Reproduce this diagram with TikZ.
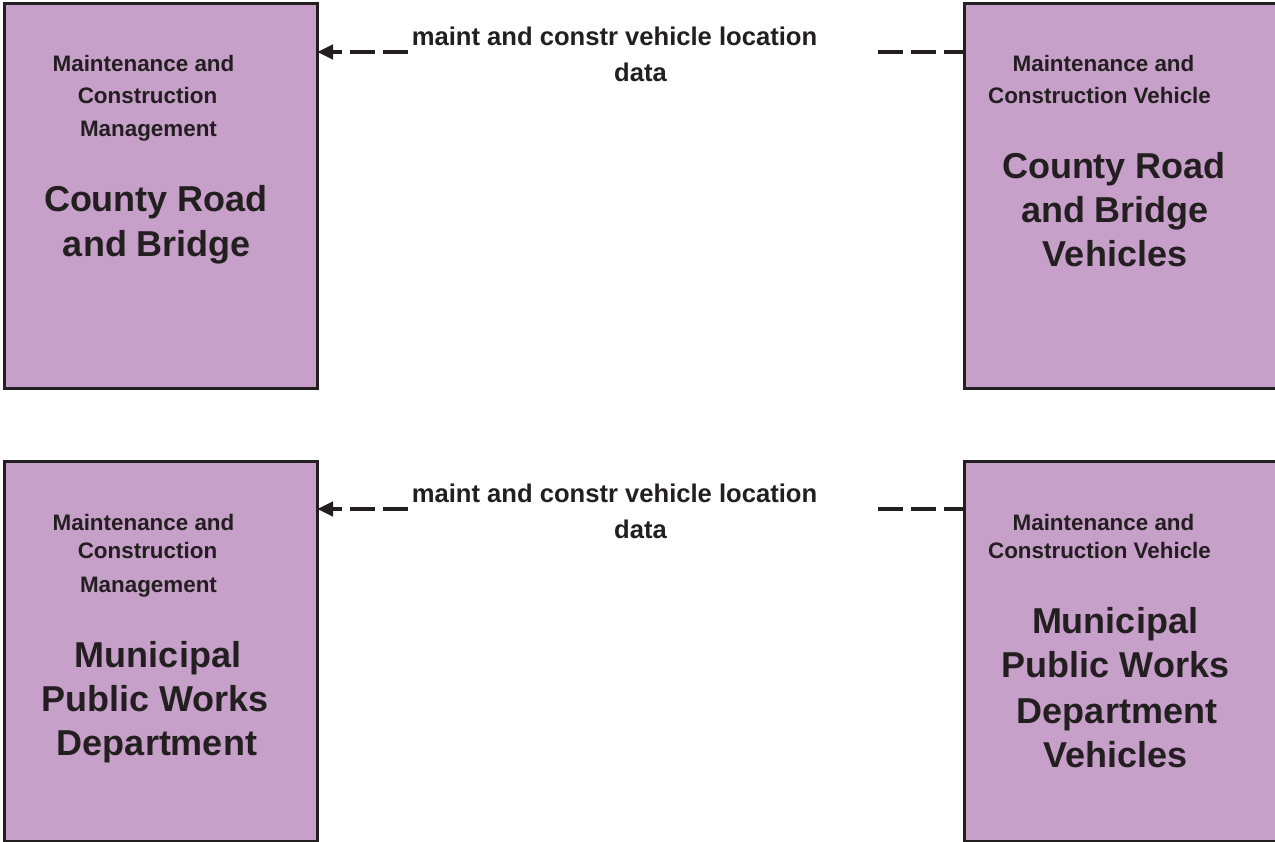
\documentclass[tikz,border=0pt]{standalone}
\usepackage{fontspec}
\setmainfont{Liberation Sans}
\usetikzlibrary{arrows.meta}
\definecolor{boxfill}{RGB}{199,160,201}
\definecolor{ink}{RGB}{35,31,32}
\begin{document}
\begin{tikzpicture}[x=1pt,y=-1pt,
  box/.style={draw=ink, line width=3pt, fill=boxfill, inner sep=0pt, outer sep=0pt},
  small/.style={font=\bfseries\fontsize{22.4}{26}\selectfont, text=ink, anchor=base, inner sep=0pt},
  big/.style={font=\bfseries\fontsize{36}{40}\selectfont, text=ink, anchor=base, inner sep=0pt},
  lab/.style={font=\bfseries\fontsize{25.6}{36}\selectfont, text=ink, align=center, fill=white, inner xsep=4pt, inner ysep=2pt, yshift=-2pt},
  conn/.style={draw=ink, line width=4pt, dash pattern=on 25pt off 8pt, dash phase=5pt, -{Triangle[length=16pt,width=14pt]}}
]
\useasboundingbox (0,0) rectangle (1275,842);
\clip (0,0) rectangle (1275,842);

% boxes
\node[box, minimum width=313pt, minimum height=385pt] (crm) at (160.5,196.5) {};
\node[box, minimum width=321pt, minimum height=385pt] (crv) at (1124.5,196.5) {};
\node[box, minimum width=313pt, minimum height=380pt] (mpm) at (160.5,651) {};
\node[box, minimum width=321pt, minimum height=380pt] (mpv) at (1124.5,651) {};

% top left texts
\node[small] (crm1) at (143.5,72) {Maintenance and};
\node[small] (crm2) at (147.5,104) {Construction};
\node[small] (crm3) at (148.5,137) {Management};
\node[big] (crm4) at (156,212) {County Road};
\node[big] (crm5) at (157,257) {and Bridge};

% top right texts
\node[small] (crv1) at (1103.5,72) {Maintenance and};
\node[small] (crv2) at (1099.5,104) {Construction Vehicle};
\node[big] (crv3) at (1114,179) {County Road};
\node[big] (crv4) at (1115,223) {and Bridge};
\node[big] (crv5) at (1115,267) {Vehicles};

% bottom left texts
\node[small] (mpm1) at (143.5,530) {Maintenance and};
\node[small] (mpm2) at (147.5,558) {Construction};
\node[small] (mpm3) at (148.5,592) {Management};
\node[big] (mpm4) at (158,667) {Municipal};
\node[big] (mpm5) at (155,711) {Public Works};
\node[big] (mpm6) at (157,755) {Department};

% bottom right texts
\node[small] (mpv1) at (1103.5,530) {Maintenance and};
\node[small] (mpv2) at (1099.5,558) {Construction Vehicle};
\node[big] (mpv3) at (1115,633) {Municipal};
\node[big] (mpv4) at (1115.5,677) {Public Works};
\node[big] (mpv5) at (1117,723) {Department};
\node[big] (mpv6) at (1115.5,767) {Vehicles};

% connectors
\coordinate (crvin) at ([yshift=-48pt]crv.north west);
\coordinate (crmin) at ([yshift=-48pt]crm.north east);
\draw[conn] (crvin) -- node[lab] (lab1) {maint and constr vehicle location\hspace*{52pt}\\data} (crmin);

\coordinate (mpvin) at ([yshift=-48pt]mpv.north west);
\coordinate (mpmin) at ([yshift=-48pt]mpm.north east);
\draw[conn] (mpvin) -- node[lab] (lab2) {maint and constr vehicle location\hspace*{52pt}\\data} (mpmin);
\end{tikzpicture}
\end{document}
